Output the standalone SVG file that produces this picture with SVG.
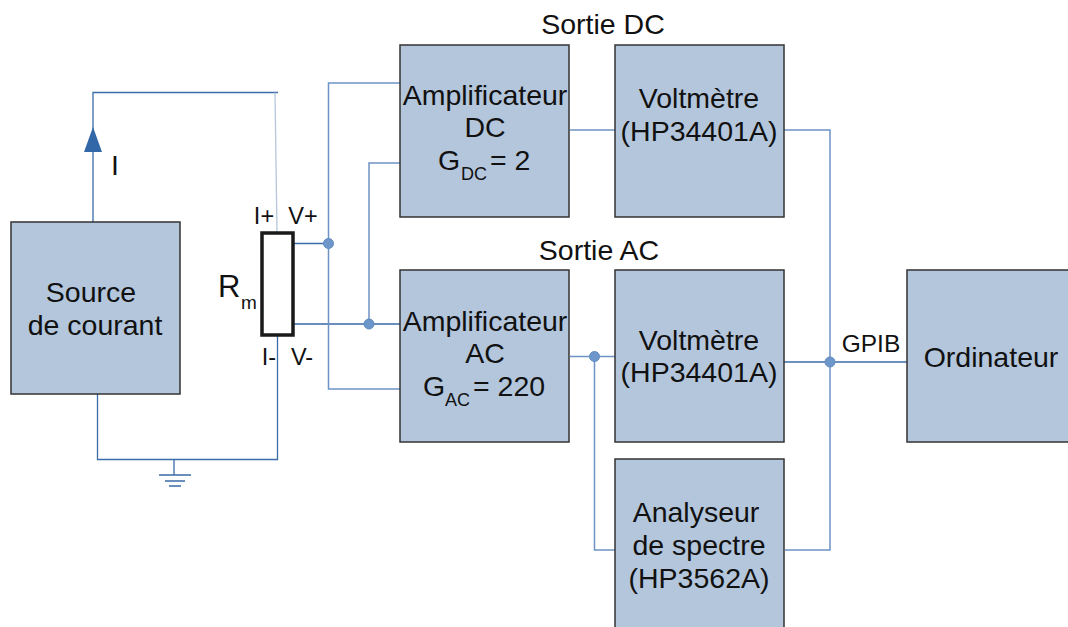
<svg xmlns="http://www.w3.org/2000/svg" width="1068" height="627" viewBox="0 0 1068 627">
<style>
text{font-family:"Liberation Sans",Arial,sans-serif;fill:#111;text-anchor:middle}
.t{font-size:28.500px}
.l{font-size:23.500px}
.sub{font-size:18px}
.st{text-anchor:start}
rect.b{fill:#b3c6dc;stroke:#333;stroke-width:1.5}
.c{fill:none;stroke:#6d93c4;stroke-width:1.5}
.d{fill:none;stroke:#3b6ba8;stroke-width:1.3}
.j{fill:#6d96cb;stroke:#5f8bc0}
</style>
<rect width="1068" height="627" fill="#fff"/>
<g id="connectors">
<path class="d" d="M93 222V92.500H278"/>
<path d="M275 92.500L277 232" fill="none" stroke="#b8c6dc" stroke-width="1.3"/>
<path d="M93 127L102 152H84Z" fill="#3268a8"/>
<path class="d" d="M97.500 394V459.500H277.500V335"/>
<path class="d" d="M174 459.500V475M159 475H191M165 481H185M169 486H181"/>
<path class="d" d="M292 243.500H328M292 324H400"/>
<path class="c" d="M400 83H328.500V389H400"/>
<path class="c" d="M400 163H369V324"/>
<path class="c" d="M570 130H615M570 356.500H615M594.500 356.500V550H615"/>
<path class="c" d="M779 130H830V550H785"/>
<path class="d" d="M779 362H907"/>
<circle class="j" cx="328.500" cy="243.500" r="5"/>
<circle class="j" cx="369" cy="324" r="5"/>
<circle class="j" cx="594.500" cy="356.500" r="5"/>
<circle class="j" cx="830" cy="362" r="5"/>
</g>
<g id="source"><rect class="b" x="11" y="222" width="169" height="172"/><text class="t" x="91" y="302">Source</text><text class="t" x="95" y="335">de courant</text></g>
<g id="rm"><rect x="262" y="233" width="31" height="102" fill="#fff" stroke="#1a1a1a" stroke-width="3.500"/>
<text x="218" y="297" style="font-size:31px;text-anchor:start">R</text><text x="241" y="309" style="font-size:19px;text-anchor:start">m</text>
<text class="l" x="264" y="224">I+</text><text class="l" x="303" y="224">V+</text><text class="l" x="269" y="365">I-</text><text class="l" x="302" y="365">V-</text></g>
<g id="current-label"><text class="t" x="115" y="175">I</text></g>
<g id="ampdc"><rect class="b" x="400" y="45" width="169" height="172"/><text class="t" x="485" y="105">Amplificateur</text><text class="t" x="485" y="137">DC</text><text class="t st" x="438" y="170">G</text><text class="sub st" x="461" y="180">DC</text><text class="t st" x="490" y="170">= 2</text></g>
<g id="voltdc"><rect class="b" x="615" y="45" width="169" height="172"/><text class="t" x="699" y="108">Voltmètre</text><text class="t" x="699" y="141">(HP34401A)</text></g>
<g id="ampac"><rect class="b" x="400" y="270" width="169" height="172"/><text class="t" x="485" y="331">Amplificateur</text><text class="t" x="485" y="363">AC</text><text class="t st" x="423" y="396">G</text><text class="sub st" x="445" y="406">AC</text><text class="t st" x="473" y="396">= 220</text></g>
<g id="voltac"><rect class="b" x="615" y="270" width="169" height="172"/><text class="t" x="699" y="350">Voltmètre</text><text class="t" x="699" y="382">(HP34401A)</text></g>
<g id="analyseur"><rect class="b" x="615" y="459" width="169" height="172"/><text class="t" x="696" y="522">Analyseur</text><text class="t" x="699" y="555">de spectre</text><text class="t" x="699" y="588">(HP3562A)</text></g>
<g id="ordinateur"><rect class="b" x="907" y="270" width="169" height="172"/><text class="t" x="991" y="367">Ordinateur</text></g>
<g id="labels"><text class="t" x="603" y="34">Sortie DC</text><text class="t" x="599" y="260">Sortie AC</text><text x="871" y="352" style="font-size:24.500px">GPIB</text></g>
</svg>
